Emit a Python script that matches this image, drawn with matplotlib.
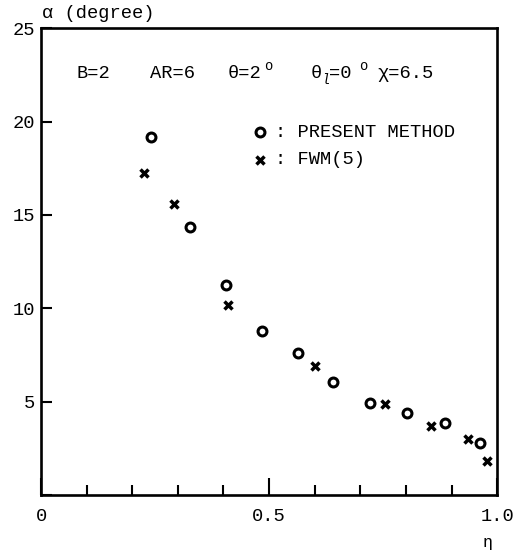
import matplotlib
matplotlib.use("Agg")
import matplotlib.pyplot as plt

plt.rcParams["font.family"] = ["Liberation Mono", "DejaVu Sans Mono"]

# data
present_eta = [0.241, 0.327, 0.406, 0.484, 0.563, 0.640, 0.722, 0.802, 0.886, 0.963]
present_alpha = [19.16, 14.34, 11.25, 8.78, 7.59, 6.04, 4.94, 4.41, 3.87, 2.77]
fwm_eta = [0.225, 0.291, 0.409, 0.601, 0.754, 0.855, 0.935, 0.977]
fwm_alpha = [17.26, 15.57, 10.16, 6.91, 4.87, 3.71, 2.98, 1.84]

x_ticks = [0, 0.5, 1.0]
x_ticklabels = ["0", "0.5", "1.0"]
x_minor = [0.1, 0.2, 0.3, 0.4, 0.6, 0.7, 0.8, 0.9]
y_ticks = [0, 5, 10, 15, 20, 25]
y_ticklabels = ["", "5", "10", "15", "20", "25"]

FS = 13.5

fig = plt.figure(figsize=(5.19, 5.52), dpi=100)
ax = fig.add_axes([0.079, 0.103, 0.879, 0.846])
ax.set_xlim(0, 1.0)
ax.set_ylim(0, 25)

circ = dict(linestyle="none", marker="o", markersize=6.4, markerfacecolor="white",
            markeredgecolor="black", markeredgewidth=2.2)
cross = dict(linestyle="none", marker="x", markersize=6.0, color="black",
             markeredgewidth=2.5)

ax.plot(present_eta, present_alpha, **circ)
ax.plot(fwm_eta, fwm_alpha, **cross)

# legend drawn by hand, like the original
ax.plot([0.48], [19.44], **circ)
ax.plot([0.48], [17.95], **cross)
ax.text(0.512, 19.44, ": PRESENT METHOD", fontsize=FS, va="center")
ax.text(0.512, 17.95, ": FWM(5)", fontsize=FS, va="center")

# parameters line (super/subscripts as separate small texts)
y_par = 22.55
ax.text(0.078, y_par, "B=2", fontsize=FS, va="center")
ax.text(0.239, y_par, "AR=6", fontsize=FS, va="center")
ax.text(0.410, y_par, "θ=2", fontsize=FS, va="center")
ax.text(0.489, y_par + 0.45, "o", fontsize=10, va="center")
ax.text(0.590, y_par, "θ", fontsize=FS, va="center")
ax.text(0.614, y_par - 0.3, "l", fontsize=10, va="center", style="italic")
ax.text(0.632, y_par, "=0", fontsize=FS, va="center")
ax.text(0.698, y_par + 0.45, "o", fontsize=10, va="center")
ax.text(0.737, y_par, "χ=6.5", fontsize=FS, va="center")

for s in ax.spines.values():
    s.set_linewidth(1.9)

ax.set_xticks(x_ticks)
ax.set_xticklabels(x_ticklabels, fontsize=FS)
ax.set_xticks(x_minor, minor=True)
ax.set_yticks(y_ticks)
ax.set_yticklabels(y_ticklabels, fontsize=FS)
ax.tick_params(axis="x", which="major", direction="in", length=12, width=1.5, pad=9)
ax.tick_params(axis="x", which="minor", direction="in", length=7, width=1.5)
ax.tick_params(axis="y", which="major", direction="in", length=8, width=1.5, pad=4)

fig.text(0.080, 0.976, "α (degree)", fontsize=FS, ha="left", va="center")
fig.text(0.940, 0.018, "η", fontsize=12, ha="center", va="center")

fig.savefig("out.png", dpi=100, facecolor="white")
